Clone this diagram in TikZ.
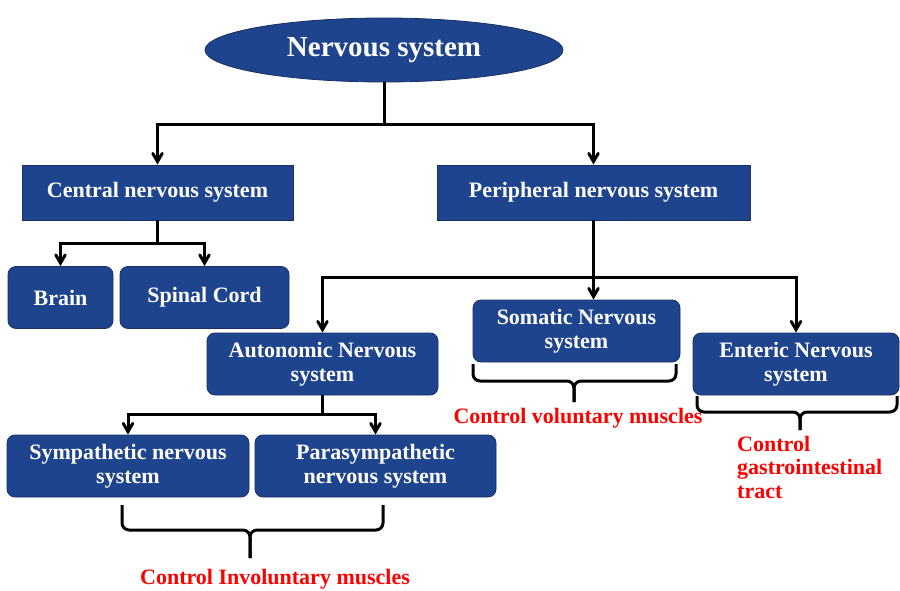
\documentclass[tikz,border=0pt]{standalone}
\usepackage{fontspec}
\setmainfont{Liberation Serif}
\usetikzlibrary{shapes}
\usetikzlibrary{arrows}
\definecolor{boxblue}{RGB}{30,68,142}
\definecolor{boxedge}{RGB}{22,48,100}
\tikzset{
	treenode/.style = {
		align=center,
		inner sep=0pt,
		text centered,
		font=\bfseries\fontsize{22}{24}\selectfont,
		text=white,
		fill=boxblue,
		draw=boxedge,
		thick
	},
	node_root/.style = {
		treenode,
		ellipse,
		font=\bfseries\fontsize{29}{30}\selectfont,
		minimum width=358pt,
		minimum height=64pt
	},
	node_sq/.style = {
		treenode,
		rectangle,
		minimum height=55pt
	},
	node_rd/.style = {
		treenode,
		rectangle,
		rounded corners=8pt,
		minimum height=62pt
	},
	node_note/.style = {
		inner sep=0pt,
		text=red,
		font=\bfseries\fontsize{22}{23.5}\selectfont
	},
	link/.style = {
		draw=black,
		line width=3pt,
		->,
		>=angle 60
	},
	brace_line/.style = {
		draw=black,
		line width=3pt,
		rounded corners=7pt
	},
}
\begin{document}
\begin{tikzpicture}[x=1pt,y=-1pt]
\useasboundingbox (0,0) rectangle (900,591);

\node [node_root] (root) at (384,50) {Nervous system};
\node [node_sq, minimum width=271pt] (cns) at (157.5,192.5) {Central nervous system};
\node [node_sq, minimum width=313pt] (pns) at (593.5,192.5) {Peripheral nervous system};
\node [node_rd, minimum width=105pt] (brain) at (60.5,297.5) {Brain};
\node [node_rd, minimum width=169pt] (spinal) at (204.5,297.5) {Spinal Cord};
\node [node_rd, minimum width=231pt] (auto) at (322.5,364) {Autonomic Nervous\\system};
\node [node_rd, minimum width=207pt] (som) at (576.5,331) {Somatic Nervous\\system};
\node [node_rd, minimum width=206pt] (ent) at (796,364) {Enteric Nervous\\system};
\node [node_rd, minimum width=242pt] (sym) at (128,466) {Sympathetic nervous\\system};
\node [node_rd, minimum width=241pt] (para) at (375.5,466) {Parasympathetic\\nervous system};

\node [node_note] (invol) at (275,579) {Control Involuntary muscles};
\node [node_note] (vol) at (578,418) {Control voluntary muscles};
\node [node_note, align=left, anchor=north west] (gastro) at (737,436) {Control\\gastrointestinal\\tract};

\coordinate (fork_root) at (0,125);
\coordinate (fork_cns) at (0,243);
\coordinate (fork_pns) at (0,277);
\coordinate (fork_auto) at (0,414);

\draw [link] (root.south) -- (root.south |- fork_root) -| (cns.north);
\draw [link] (root.south) -- (root.south |- fork_root) -| (pns.north);
\draw [link] (cns.south) -- (cns.south |- fork_cns) -| (brain.north);
\draw [link] (cns.south) -- (cns.south |- fork_cns) -| (spinal.north);
\draw [link] (pns.south) -- (pns.south |- fork_pns) -| (auto.north);
\draw [link] (pns.south) -- (pns.south |- som.north);
\draw [link] (pns.south) -- (pns.south |- fork_pns) -| (ent.north);
\draw [link] (auto.south) -- (auto.south |- fork_auto) -| (sym.north);
\draw [link] (auto.south) -- (auto.south |- fork_auto) -| (para.north);

\coordinate (b_sym_l) at (122,505);
\coordinate (b_sym_r) at (383,505);
\coordinate (b_sym_m) at (250,530);
\coordinate (b_sym_t) at (250,558);
\draw [brace_line] (b_sym_l) |- (b_sym_m) -- (b_sym_t);
\draw [brace_line] (b_sym_r) |- (b_sym_m) -- (b_sym_t);

\coordinate (b_som_l) at (473,364);
\coordinate (b_som_r) at (676,364);
\coordinate (b_som_m) at (574,381);
\coordinate (b_som_t) at (574,402);
\draw [brace_line] (b_som_l) |- (b_som_m) -- (b_som_t);
\draw [brace_line] (b_som_r) |- (b_som_m) -- (b_som_t);

\coordinate (b_ent_l) at (697,396);
\coordinate (b_ent_r) at (897,396);
\coordinate (b_ent_m) at (800,412);
\coordinate (b_ent_t) at (800,430);
\draw [brace_line] (b_ent_l) |- (b_ent_m) -- (b_ent_t);
\draw [brace_line] (b_ent_r) |- (b_ent_m) -- (b_ent_t);
\end{tikzpicture}
\end{document}
